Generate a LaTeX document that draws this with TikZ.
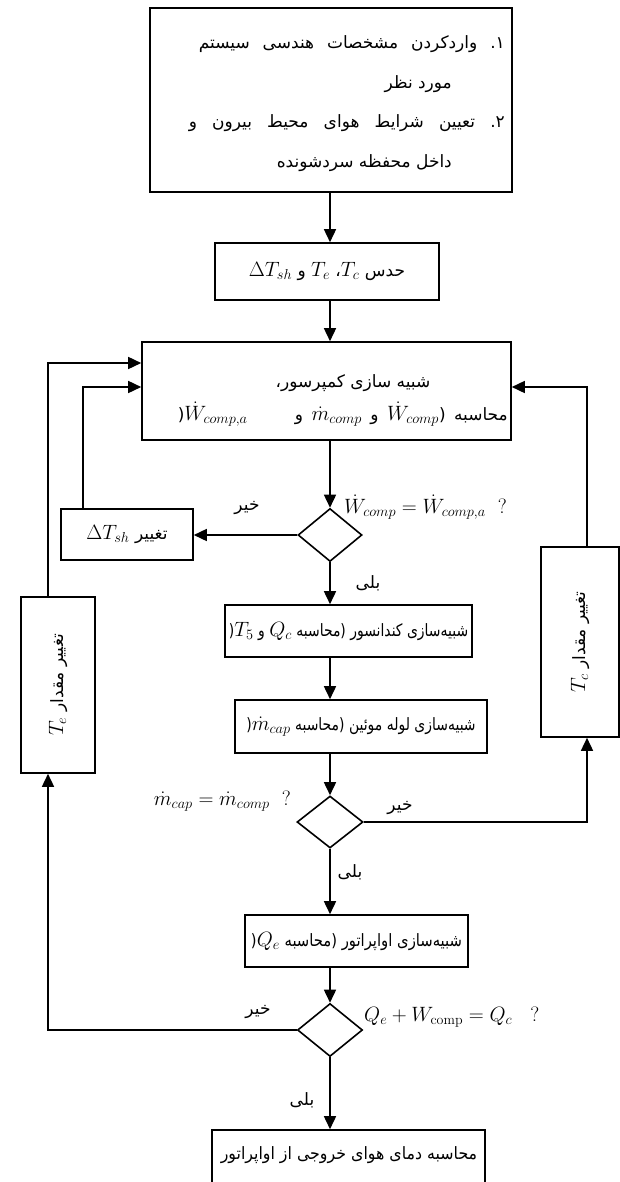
\documentclass[tikz,border=0pt]{standalone}
\usepackage{fontspec}
\newfontfamily\fafont[Script=Arabic]{DejaVu Sans}
\newfontfamily\fanarrow[Script=Arabic, FakeStretch=0.82]{DejaVu Sans}
\newfontfamily\fanarrowb[Script=Arabic, FakeStretch=0.87]{DejaVu Sans}
\newfontfamily\fanarrowc[Script=Arabic, FakeStretch=0.93]{DejaVu Sans}
\TeXXeTstate=1
\usetikzlibrary{shapes.geometric,arrows.meta}
\newcommand\mth[1]{\hbox{\fontsize{20}{24}\selectfont$#1$}}
\begin{document}
\begin{tikzpicture}[x=1pt,y=-1pt,
  box/.style={draw, line width=1.6pt, inner sep=0pt, rectangle},
  dia/.style={draw, line width=1.6pt, diamond, inner sep=0pt},
  arr/.style={line width=1.6pt, -{Triangle[length=13pt,width=12pt]}},
  fa/.style={font=\fontsize{17}{20}\selectfont, inner sep=0pt},
  lbl/.style={inner sep=0pt}
]
\useasboundingbox (0,0) rectangle (620,1182);
\coordinate (ax) at (330,0);
\coordinate (lx1) at (48,363);
\coordinate (lx2) at (83,387);
\coordinate (rx) at (587,387);

% boxes
\node[box, minimum width=362pt, minimum height=184pt] (b1) at (331,100) {};
\node[fa, anchor=east] (t1) at (505,44) {\hbox to 306pt{\fafont\beginR ۱\hbox{.} واردکردن مشخصات هندسی سیستم\endR}};
\node[fa, anchor=east] (t2) at (452,84) {\hbox{\fafont\beginR مورد نظر\endR}};
\node[fa, anchor=east] (t3) at (505,123) {\hbox to 316pt{\fafont\beginR ۲\hbox{.} تعیین شرایط هوای محیط بیرون و\endR}};
\node[fa, anchor=east] (t4) at (452,163) {\hbox{\fafont\beginR داخل محفظه سردشونده\endR}};

\node[box, fa, minimum width=224pt, minimum height=57pt] (b2) at (327,271.5)
  {\hbox{\fafont\beginR حدس \mth{T_c}، \mth{T_e} و \mth{\Delta T_{sh}}\endR}};

\node[box, minimum width=369pt, minimum height=98pt] (b3) at (326.5,391) {};
\node[fa] (t5) at (353,383) {\hbox{\fafont\beginR شبیه سازی کمپرسور،\endR}};
\node[fa, anchor=east] (t6) at (508,414) {\hbox to 330pt{\fafont\beginR محاسبه \hbox{(}\mth{\dot W_{comp}} و \mth{\dot m_{comp}} و\hskip 14pt plus 30pt\mth{\dot W_{comp,a}}\hbox{(}\endR}};

\node[dia, minimum width=64pt, minimum height=53pt] (d1) at (330,535) {};
\node[lbl, anchor=west] (q1) at (344,507) {\mth{\dot W_{comp} = \dot W_{comp,a}\ \ ?}};

\node[box, fa, minimum width=132pt, minimum height=51pt] (b4) at (127,534.5)
  {\hbox{\fafont\beginR تغییر \mth{\Delta T_{sh}}\endR}};

\node[box, minimum width=74pt, minimum height=176pt] (b5) at (58,685) {};
\node[fa, rotate=90] (t7) at (b5) {\hbox{\fafont\beginR تغییر مقدار \mth{T_e}\endR}};

\node[box, minimum width=78pt, minimum height=190pt] (b6) at (580,642) {};
\node[fa, rotate=90] (t8) at (b6) {\hbox{\fafont\beginR تغییر مقدار \mth{T_c}\endR}};

\node[box, fa, minimum width=247pt, minimum height=52pt] (b7) at (348.5,631)
  {\hbox{\fanarrow\beginR شبیه‌سازی کندانسور \hbox{(}محاسبه \mth{Q_c} و \mth{T_5}\hbox{(}\endR}};

\node[box, fa, minimum width=252pt, minimum height=53pt] (b8) at (361,726.5)
  {\hbox{\fanarrow\beginR شبیه‌سازی لوله موئین \hbox{(}محاسبه \mth{\dot m_{cap}}\hbox{(}\endR}};

\node[dia, minimum width=66pt, minimum height=52pt] (d2) at (330,822) {};
\node[lbl, anchor=east] (q2) at (291,801) {\mth{\dot m_{cap} = \dot m_{comp}\ \ ?}};

\node[box, fa, minimum width=223pt, minimum height=52pt] (b9) at (356.5,941)
  {\hbox{\fanarrowb\beginR شبیه‌سازی اواپراتور \hbox{(}محاسبه \mth{Q_e}\hbox{(}\endR}};

\node[dia, minimum width=65pt, minimum height=53pt] (d3) at (330,1030) {};
\node[lbl, anchor=west] (q3) at (364,1017) {\mth{Q_e + W_{\mathrm{comp}} = Q_c\ \ \ ?}};

\node[box, minimum width=273pt, minimum height=53pt] (b10) at (348.5,1156.5) {};
\node[fa] (t9) at (349,1155) {\hbox{\fanarrowc\beginR محاسبه دمای هوای خروجی از اواپراتور\endR}};

% yes / no labels
\node[fa] (n1) at (247,508) {\hbox{\fafont\beginR خیر\endR}};
\node[fa] (n2) at (400,808) {\hbox{\fafont\beginR خیر\endR}};
\node[fa] (n3) at (258,1012) {\hbox{\fafont\beginR خیر\endR}};
\node[fa] (y1) at (368,583) {\hbox{\fafont\beginR بلی\endR}};
\node[fa] (y2) at (350,872) {\hbox{\fafont\beginR بلی\endR}};
\node[fa] (y3) at (302,1100) {\hbox{\fafont\beginR بلی\endR}};

% connectors
\draw[arr] (b1.south -| ax) -- (b2.north -| ax);
\draw[arr] (b2.south -| ax) -- (b3.north -| ax);
\draw[arr] (b3.south -| ax) -- (d1.north);
\draw[arr] (d1.west) -- (d1.west -| b4.east);
\draw[arr] (b4.north -| lx2) |- (b3.west |- lx2);
\draw[arr] (d1.south) -- (b7.north -| ax);
\draw[arr] (b7.south -| ax) -- (b8.north -| ax);
\draw[arr] (b8.south -| ax) -- (d2.north);
\draw[arr] (d2.east) -| (b6.south -| rx);
\draw[arr] (b6.north -| rx) |- (b3.east |- rx);
\draw[arr] (d2.south) -- (b9.north -| ax);
\draw[arr] (b9.south -| ax) -- (d3.north);
\draw[arr] (d3.west) -| (b5.south -| lx1);
\draw[arr] (b5.north -| lx1) |- (b3.west |- lx1);
\draw[arr] (d3.south) -- (b10.north -| ax);
\end{tikzpicture}
\end{document}
